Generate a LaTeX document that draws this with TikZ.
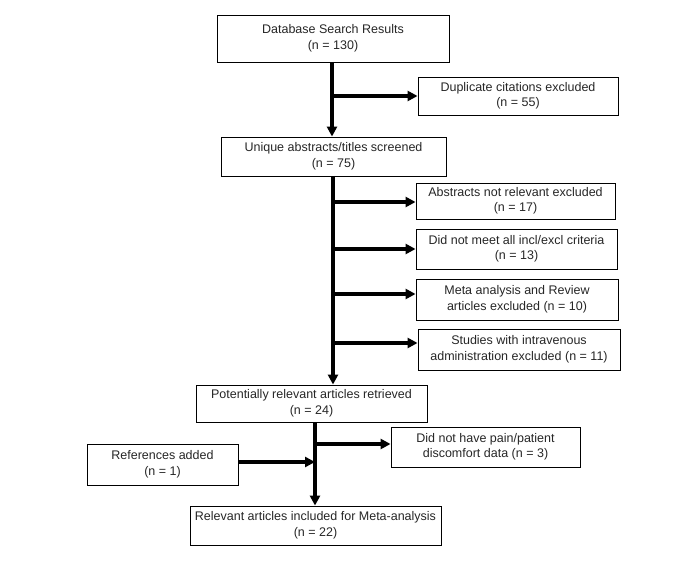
\documentclass[tikz,border=0pt]{standalone}
\usepackage{fontspec}
\setmainfont{Liberation Sans}
\usetikzlibrary{arrows.meta}
\begin{document}
\begin{tikzpicture}[x=1pt,y=-1pt,
  box/.style={draw, line width=0.9pt, inner sep=0pt, align=center, text=black!85, font=\fontsize{12.5}{15.5}\selectfont},
  arr/.style={line width=3.2pt, -{Triangle[length=10pt,width=10pt]}}]
\useasboundingbox (0,0) rectangle (685,564);
\node[box, minimum width=232pt, minimum height=47pt] (db) at (333,38.5) {Database Search Results\\(n = 130)};
\node[box, minimum width=200pt, minimum height=38pt] (dup) at (518,96) {Duplicate citations excluded\\(n = 55)};
\node[box, minimum width=225pt, minimum height=39pt] (uni) at (333.5,156.5) {Unique abstracts/titles screened\\(n = 75)};
\node[box, minimum width=199pt, minimum height=36pt] (abs) at (515.5,201) {Abstracts not relevant excluded\\(n = 17)};
\node[box, minimum width=201pt, minimum height=40pt] (inc) at (516.5,249) {Did not meet all incl/excl criteria\\(n = 13)};
\node[box, minimum width=202pt, minimum height=41pt] (meta) at (517,299.5) {Meta analysis and Review\\articles excluded (n = 10)};
\node[box, minimum width=202pt, minimum height=41pt] (iv) at (519,349.5) {Studies with intravenous\\administration excluded (n = 11)};
\node[box, minimum width=231pt, minimum height=37pt] (pot) at (311.5,403.5) {Potentially relevant articles retrieved\\(n = 24)};
\node[box, minimum width=189pt, minimum height=40pt] (pain) at (485.5,447) {Did not have pain/patient\\discomfort data (n = 3)};
\node[box, minimum width=151pt, minimum height=41pt] (ref) at (162.5,464.5) {References added\\(n = 1)};
\node[box, minimum width=251pt, minimum height=39pt] (rel) at (315.5,525.5) {Relevant articles included for Meta-analysis\\(n = 22)};
% stage 1
\coordinate (t1) at (332,62);
\coordinate (b1) at (332,96);
\draw[arr] (t1) -- (uni.north -| t1);
\draw[arr] (b1) -- (dup.west |- b1);
% stage 2
\coordinate (t2) at (333,176);
\coordinate (e1) at (333,202);
\coordinate (e2) at (333,249);
\coordinate (e3) at (333,294);
\coordinate (e4) at (333,343);
\draw[arr] (t2) -- (pot.north -| t2);
\draw[arr] (e1) -- (abs.west |- e1);
\draw[arr] (e2) -- (inc.west |- e2);
\draw[arr] (e3) -- (meta.west |- e3);
\draw[arr] (e4) -- (iv.west |- e4);
% stage 3
\coordinate (t3) at (315,422);
\coordinate (e5) at (315,444);
\coordinate (j3) at (315,462);
\draw[arr] (t3) -- (rel.north -| t3);
\draw[arr] (e5) -- (pain.west |- e5);
\draw[arr] (ref.east |- j3) -- (j3);
\end{tikzpicture}
\end{document}
